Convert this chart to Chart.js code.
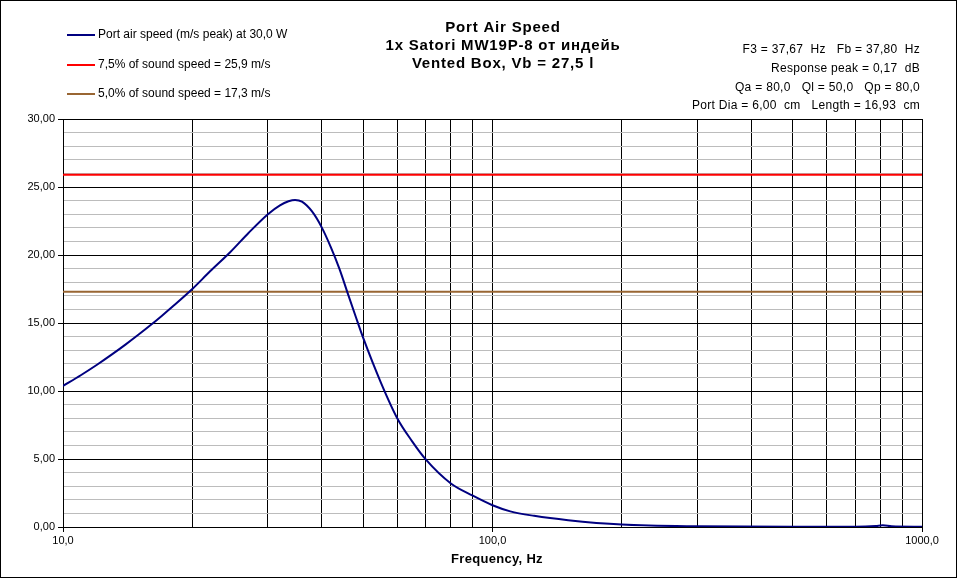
<!DOCTYPE html>
<html>
<head>
<meta charset="utf-8">
<script src="https://cdn.jsdelivr.net/npm/chart.js@4/dist/chart.umd.min.js"></script>
<style>
   html, body { margin: 0; padding: 0; background: #fff; }
   canvas { display: block; }
</style>
</head>
<body>
<canvas id="chart" width="958" height="579"></canvas>
<script>
// data
const freqs = [10, 11, 12, 13, 14, 15, 16, 17, 18, 20, 22, 24.5, 27, 30, 32, 33.5, 34.7, 36, 38, 40,
   42, 44, 46, 48, 50, 55, 60, 65, 70, 80, 90, 100, 110, 125, 150, 200, 300, 500, 700, 780, 810, 850, 1000];
const portSpeed = [10.37, 11.16, 11.93, 12.69, 13.43, 14.15, 14.85, 15.54, 16.21, 17.5, 18.8, 20.2, 21.6,
   23.0, 23.65, 23.95, 24.05, 23.92, 23.2, 22.05, 20.6, 19.0, 17.2, 15.5, 13.9, 10.6, 8.0, 6.3, 4.95,
   3.2, 2.3, 1.6, 1.15, 0.82, 0.5, 0.18, 0.05, 0.02, 0.02, 0.07, 0.12, 0.05, 0.02];
const limitFreqs = [10, 1000];
const limit75 = [25.9, 25.9];
const limit50 = [17.3, 17.3];

const seriesNames = [
   "Port air speed (m/s peak) at 30,0 W",
   "7,5% of sound speed = 25,9 m/s",
   "5,0% of sound speed = 17,3 m/s",
];
const titleLines = ["Port Air Speed", "1x Satori MW19P-8 от индейь", "Vented Box, Vb = 27,5 l"];
const infoLines = [
   "F3 = 37,67  Hz   Fb = 37,80  Hz",
   "Response peak = 0,17  dB",
   "Qa = 80,0   Ql = 50,0   Qp = 80,0",
   "Port Dia = 6,00  cm   Length = 16,93  cm",
];
const xTickValues = [10, 20, 30, 40, 50, 60, 70, 80, 90, 100, 200, 300, 400, 500, 600, 700, 800, 900, 1000];
const xTickLabels = { 10: "10,0", 100: "100,0", 1000: "1000,0" };
const xAxisTitle = "Frequency, Hz";

const FONT = "'Liberation Sans', Arial, sans-serif";

const toPoints = (xs, ys) => xs.map((x, i) => ({ x: x, y: ys[i] }));

// legend, titles, info text and frame
const decorPlugin = {
   id: "decor",
   afterDraw(chart) {
      const ctx = chart.ctx;
      ctx.save();

      // legend
      const legendY = [35, 65, 94];
      chart.data.datasets.forEach((ds, i) => {
         ctx.strokeStyle = ds.borderColor;
         ctx.lineWidth = ds.borderWidth;
         ctx.beginPath();
         ctx.moveTo(67, legendY[i]);
         ctx.lineTo(95, legendY[i]);
         ctx.stroke();
         ctx.fillStyle = "#000";
         ctx.font = "12px " + FONT;
         ctx.textAlign = "left";
         ctx.textBaseline = "middle";
         ctx.fillText(ds.label, 98, legendY[i]);
      });

      // title
      ctx.font = "bold 15px " + FONT;
      ctx.letterSpacing = "0.8px";
      ctx.textAlign = "center";
      ctx.textBaseline = "middle";
      const titleY = [28, 46, 64];
      titleLines.forEach((t, i) => ctx.fillText(t, 503, titleY[i]));

      // info text
      ctx.font = "12px " + FONT;
      ctx.letterSpacing = "0.3px";
      ctx.textAlign = "right";
      const infoY = [50, 69, 88, 106];
      infoLines.forEach((t, i) => ctx.fillText(t, 920, infoY[i]));

      // x axis title
      ctx.font = "bold 13px " + FONT;
      ctx.letterSpacing = "0.3px";
      ctx.textAlign = "center";
      ctx.fillText(xAxisTitle, 497, 559);
      ctx.letterSpacing = "0px";

      // outer frame
      ctx.strokeStyle = "#000";
      ctx.lineWidth = 1;
      ctx.strokeRect(0.5, 0.5, 956, 577);
      ctx.restore();
   },
};

const config = {
   type: "line",
   data: {
      datasets: [
         {
            label: seriesNames[0],
            data: toPoints(freqs, portSpeed),
            borderColor: "#000080",
            borderWidth: 2,
            pointRadius: 0,
            cubicInterpolationMode: "monotone",
            order: 0,
         },
         {
            label: seriesNames[1],
            data: toPoints(limitFreqs, limit75),
            borderColor: "#ff0000",
            borderWidth: 2,
            pointRadius: 0,
            order: 1,
         },
         {
            label: seriesNames[2],
            data: toPoints(limitFreqs, limit50),
            borderColor: "#996633",
            borderWidth: 2,
            pointRadius: 0,
            order: 2,
         },
      ],
   },
   options: {
      responsive: false,
      animation: false,
      events: [],
      layout: { padding: { left: 0, top: 119, right: 36, bottom: 0 } },
      plugins: {
         legend: { display: false },
         title: { display: false },
         tooltip: { enabled: false },
      },
      scales: {
         x: {
            type: "logarithmic",
            min: 10,
            max: 1000,
            afterBuildTicks: (scale) => {
               scale.ticks = xTickValues.map((v) => ({ value: v }));
            },
            afterFit: (scale) => {
               scale.height = 52;
            },
            ticks: {
               autoSkip: false,
               maxRotation: 0,
               color: "#000",
               font: { family: FONT, size: 11 },
               padding: 2,
               callback: (v) => xTickLabels[v] || "",
            },
            grid: {
               color: "#000",
               lineWidth: 1,
               tickLength: 5,
               tickColor: (ctx) => (xTickLabels[ctx.tick.value] ? "#000" : "rgba(0,0,0,0)"),
            },
            border: { display: true, color: "#000", width: 1 },
         },
         y: {
            min: 0,
            max: 30,
            afterFit: (scale) => {
               scale.width = 63;
            },
            ticks: {
               stepSize: 1,
               autoSkip: false,
               color: "#000",
               font: { family: FONT, size: 11 },
               padding: 3,
               callback: (v) => (v % 5 === 0 ? v.toFixed(2).replace(".", ",") : ""),
            },
            grid: {
               color: (ctx) => (ctx.tick.value % 5 === 0 ? "#000" : "#bcbcbc"),
               lineWidth: 1,
               tickLength: 5,
               tickColor: (ctx) => (ctx.tick.value % 5 === 0 ? "#000" : "rgba(0,0,0,0)"),
            },
            border: { display: true, color: "#000", width: 1 },
         },
      },
   },
   plugins: [decorPlugin],
};

new Chart(document.getElementById("chart"), config);
</script>
</body>
</html>
